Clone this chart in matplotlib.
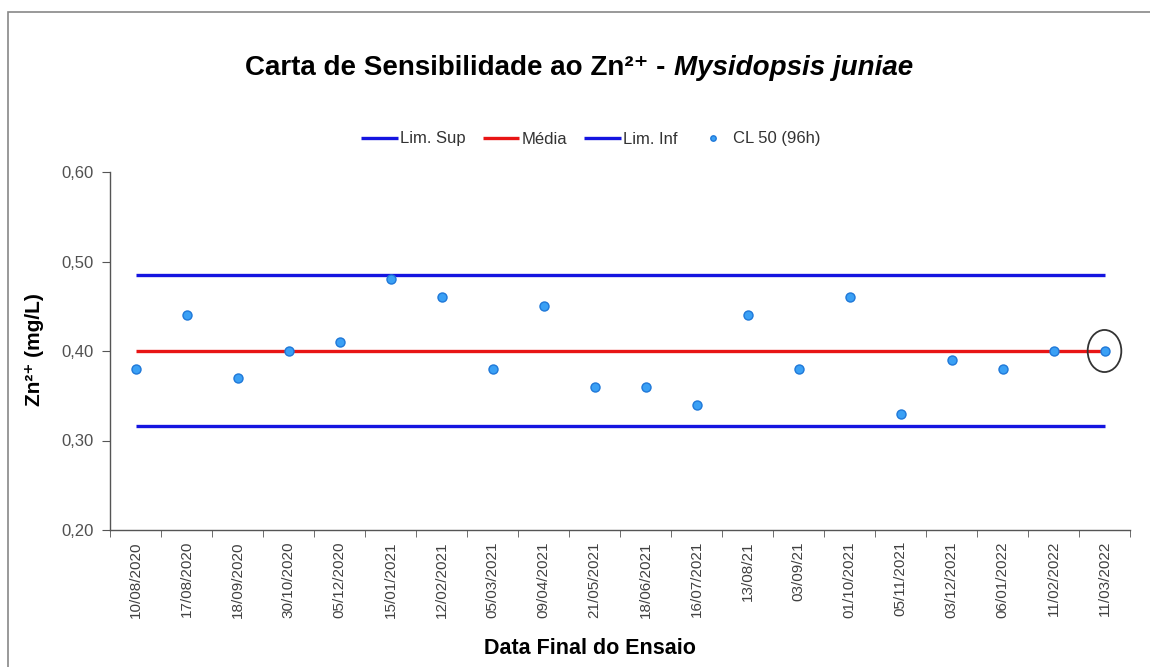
import matplotlib
matplotlib.use("Agg")
import matplotlib.pyplot as plt
from matplotlib.patches import Ellipse, Rectangle
import numpy as np

plt.rcParams['font.family'] = ['Liberation Sans', 'DejaVu Sans']

dates = ["10/08/2020", "17/08/2020", "18/09/2020", "30/10/2020", "05/12/2020",
         "15/01/2021", "12/02/2021", "05/03/2021", "09/04/2021", "21/05/2021",
         "18/06/2021", "16/07/2021", "13/08/21", "03/09/21", "01/10/2021",
         "05/11/2021", "03/12/2021", "06/01/2022", "11/02/2022", "11/03/2022"]
cl50 = [0.38, 0.44, 0.37, 0.40, 0.41, 0.48, 0.46, 0.38, 0.45, 0.36,
        0.36, 0.34, 0.44, 0.38, 0.46, 0.33, 0.39, 0.38, 0.40, 0.40]
lim_sup = 0.485
media = 0.40
lim_inf = 0.316
yticks = [0.20, 0.30, 0.40, 0.50, 0.60]

fig = plt.figure(figsize=(11.5, 6.67), dpi=100)
ax = fig.add_axes([110/1150, 1-530/667, (1130-110)/1150, (530-172)/667])

x = np.arange(len(dates))
n = len(dates)
ax.plot(x, [lim_sup]*n, color='#1515E0', lw=2.4, label='Lim. Sup', solid_capstyle='butt')
ax.plot(x, [media]*n, color='#E81515', lw=2.4, label='Média', solid_capstyle='butt')
ax.plot(x, [lim_inf]*n, color='#1515E0', lw=2.4, label='Lim. Inf', solid_capstyle='butt')
ax.plot(x, cl50, ls='none', marker='o', ms=6.5, mfc='#3AA0F5', mec='#1F78D8', mew=1.0,
        label='CL 50 (96h)', zorder=5)

ax.add_patch(Ellipse((x[-1], cl50[-1]), 0.66, 0.047, fill=False, ec='#333333', lw=1.3, zorder=6))

ax.set_xlim(-0.5, n-0.5)
ax.set_ylim(0.2, 0.6)
ax.set_yticks(yticks)
ax.set_yticklabels([f"{v:.2f}".replace('.', ',') for v in yticks], fontsize=12, color='#505050')
ax.set_xticks(x)
ax.set_xticklabels(dates, rotation=90, fontsize=11, color='#404040')
ax.set_xticks(np.arange(-0.5, n, 1), minor=True)
ax.tick_params(axis='x', which='major', length=0, pad=8)
ax.tick_params(axis='x', which='minor', length=5, color='#555555', direction='out')
ax.tick_params(axis='y', length=6, color='#555555', direction='out', pad=6)
for s in ['top', 'right']:
    ax.spines[s].set_visible(False)
for s in ['left', 'bottom']:
    ax.spines[s].set_color('#555555')
    ax.spines[s].set_linewidth(1.0)

fig.text(35/1150, 1-350/667, "Zn²⁺ (mg/L)", rotation=90, ha='center', va='center',
         fontsize=15, fontweight='bold')
fig.text(590/1150, 1-648/667, "Data Final do Ensaio", ha='center', va='center',
         fontsize=15.5, fontweight='bold')

# Title in two parts (regular bold + bold italic), centred together
ty = 1 - 68/667
t1 = fig.text(0, ty, "Carta de Sensibilidade ao Zn²⁺ - ", ha='left', va='center',
              fontsize=20, fontweight='bold')
t2 = fig.text(0, ty, "Mysidopsis juniae", ha='left', va='center',
              fontsize=20, fontweight='bold', fontstyle='italic')
renderer = fig.canvas.get_renderer()
w1 = t1.get_window_extent(renderer).width
w2 = t2.get_window_extent(renderer).width
start = 579 - (w1 + w2) / 2
t1.set_x(start / 1150)
t2.set_x((start + w1) / 1150)

handles, labels = ax.get_legend_handles_labels()
leg = fig.legend(handles, labels, loc='center', bbox_to_anchor=(591/1150, 1-139/667), ncol=4,
                 frameon=False, prop={'size': 12}, handlelength=2.2, handletextpad=0.15,
                 columnspacing=1.0, markerscale=0.6)
for t in leg.get_texts():
    t.set_color('#333333')

fig.add_artist(Rectangle((8/1150, -0.1), 1.2, 1-12/667+0.1, transform=fig.transFigure,
                         fill=False, ec='#888888', lw=1.2))

fig.savefig("out.png", dpi=100)
